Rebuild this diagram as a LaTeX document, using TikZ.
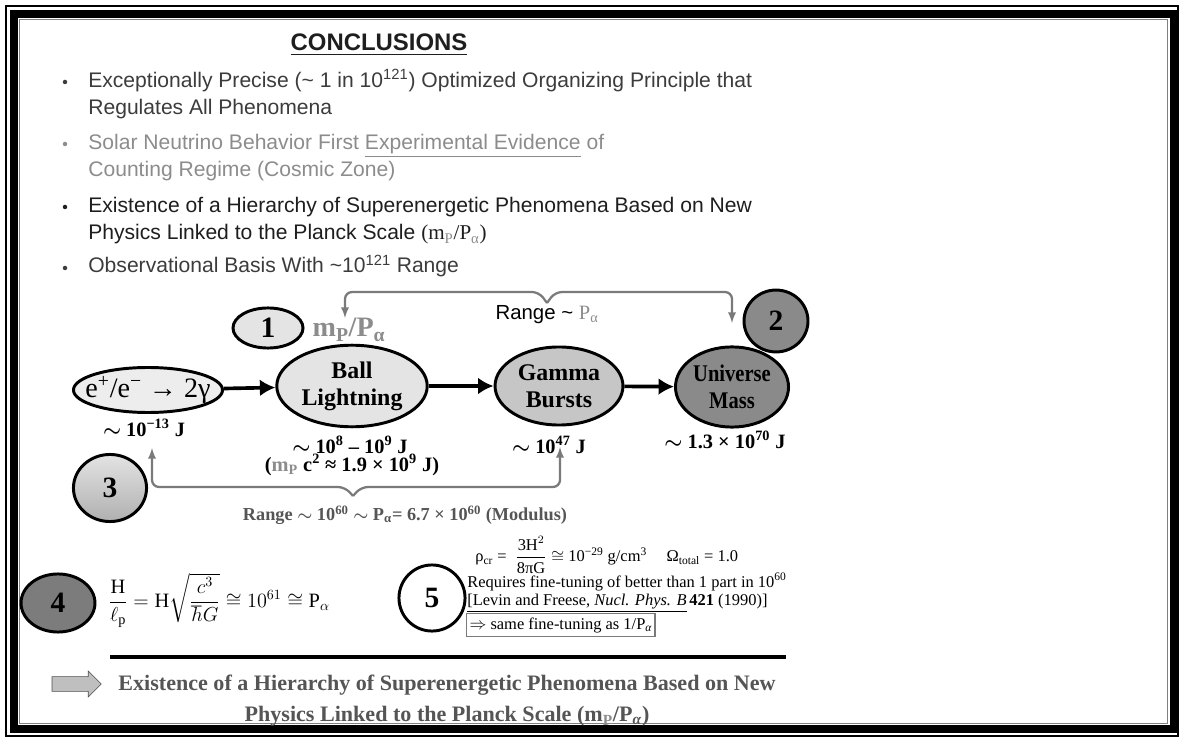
\documentclass[tikz,border=0pt]{standalone}
\usepackage{amsmath,amssymb}
\usepackage{fontspec}
\setmainfont{Liberation Serif}
\newfontfamily\arial{Liberation Sans}
\usepackage{xcolor}
\usepackage{tikz}
\usetikzlibrary{shapes.geometric,shapes.arrows,arrows.meta}

\definecolor{txtA}{HTML}{3C3C3C}
\definecolor{txtB}{HTML}{8C8C8C}
\definecolor{txtC}{HTML}{1E1E1E}
\definecolor{brk}{HTML}{7A7A7A}
\definecolor{fillE}{HTML}{EDEDED}
\definecolor{fillB}{HTML}{E4E4E4}
\definecolor{fillG}{HTML}{C6C6C6}
\definecolor{fillU}{HTML}{8A8A8A}
\definecolor{fillD}{HTML}{7C7C7C}
\definecolor{botT}{HTML}{555555}

\begin{document}
\begin{tikzpicture}[
    x=0.025cm, y=-0.025cm,
    >=latex,
    line width=0.45pt,
    every node/.style={font=\rmfamily\fontsize{15}{17}\selectfont, inner sep=0pt},
    blob/.style={ellipse, draw, line width=2.1pt, inner xsep=-30pt, inner ysep=-12pt,
      align=center, font=\rmfamily\bfseries\fontsize{17}{19}\selectfont},
    numb/.style={ellipse, draw, line width=2.1pt, inner sep=-20pt,
      font=\rmfamily\bfseries\fontsize{21}{21}\selectfont},
    flow/.style={-{Latex[length=11pt,width=12pt]}, line width=2.6pt},
    rng/.style={draw=brk, line width=1.6pt, rounded corners=5pt},
    bul/.style={anchor=base west, align=left, font=\arial\fontsize{15}{19.9}\selectfont},
    bdot/.style={circle, minimum size=3.2pt}
  ]
    \useasboundingbox (0,0) rectangle (1181,740);
    % frame
    \draw[line width=0.8pt] (6,6) rectangle (1178,736);
    \draw[line width=5pt] (14,14) rectangle (1173,729);
    \draw[gray, line width=0.6pt] (19.5,19.5) rectangle (1167.5,723.5);

    % title and bullets
    \node[text=txtC, font=\arial\bfseries\fontsize{17}{19}\selectfont] (title) at (379,45) {\underline{CONCLUSIONS}};
    \node[bdot, fill=txtA] (d1) at (65,82) {};
    \node[bul, text=txtA] (t1) at (88,115) {Exceptionally Precise (\textasciitilde{} 1 in 10\textsuperscript{121}) Optimized Organizing Principle that\\Regulates All Phenomena};
    \node[bdot, fill=txtB] (d2) at (65,144) {};
    \node[bul, text=txtB] (t2) at (88,177) {Solar Neutrino Behavior First \underline{Experimental Evidence} of\\Counting Regime (Cosmic Zone)};
    \node[bdot, fill=txtC] (d3) at (65,207) {};
    \node[bul, text=txtC] (t3) at (88,240) {Existence of a Hierarchy of Superenergetic Phenomena Based on New\\Physics Linked to the Planck Scale {\rmfamily(m\textsubscript{\textcolor{txtB}{P}}/P\textsubscript{\textcolor{txtB}{α}})}};
    \node[bdot, fill=txtA] (d4) at (65,268) {};
    \node[bul, text=txtA] (t4) at (88,273) {Observational Basis With \textasciitilde10\textsuperscript{121} Range};

    % chain of phenomena
    \node[blob, fill=fillE, minimum width=106pt, minimum height=32pt,
      font=\rmfamily\fontsize{20}{22}\selectfont] (ee) at (148,390) {e\textsuperscript{+}/e\textsuperscript{−} → 2γ};
    \node[blob, fill=fillB, minimum width=107pt, minimum height=58pt] (ball) at (352,386) {Ball\\Lightning};
    \node[blob, fill=fillG, minimum width=91pt, minimum height=55.5pt] (gam) at (559,386) {Gamma\\Bursts};
    \node[blob, fill=fillU, minimum width=80.4pt, minimum height=57pt] (uni) at (732,387) {\scalebox{.86}[1]{Universe}\\\scalebox{.86}[1]{Mass}};
    \draw[flow] (ee) -- (ball);
    \draw[flow] (ball) -- (gam);
    \draw[flow] (gam) -- (uni);

    \node[font=\rmfamily\bfseries\fontsize{14.5}{17}\selectfont] (lee) at (144,428) {{\boldmath$\sim$} 10\textsuperscript{−13} J};
    \node[font=\rmfamily\bfseries\fontsize{14.5}{17}\selectfont] (lball) at (350,445) {{\boldmath$\sim$} 10\textsuperscript{8} – 10\textsuperscript{9} J};
    \node[font=\rmfamily\bfseries\fontsize{14.5}{17}\selectfont] (lmp) at (352,465) {(\textcolor{txtB}{m\textsubscript{P}} c\textsuperscript{2} ≈ 1.9 × 10\textsuperscript{9} J)};
    \node[font=\rmfamily\bfseries\fontsize{14.5}{17}\selectfont] (lgam) at (549,445) {{\boldmath$\sim$} 10\textsuperscript{47} J};
    \node[font=\rmfamily\bfseries\fontsize{14.5}{17}\selectfont] (luni) at (725,440) {{\boldmath$\sim$} 1.3 × 10\textsuperscript{70} J};

    % numbered marks
    \node[numb, fill=fillB, minimum width=49.8pt, minimum height=28.5pt] (n1) at (268,328) {1};
    \node[text=txtB, font=\rmfamily\bfseries\fontsize{20}{22}\selectfont] (mp) at (349,330) {m\textsubscript{P}/P\textsubscript{α}};
    \node[numb, fill=fillU, minimum width=45.5pt, minimum height=44pt] (n2) at (776,321) {2};
    \node[numb, top color=gray!22, bottom color=gray!62, minimum width=52pt, minimum height=47.7pt] (n3) at (110,488) {3};

    % ranges
    \coordinate (ta) at (345,318);
    \coordinate (tb) at (732,323);
    \coordinate (tt) at (547,303);
    \draw[rng,->] (tt) -- ++(-8,-11) -| (ta);
    \draw[rng,->] (tt) -- ++(8,-11) -| (tb);
    \node[font=\arial\fontsize{14.5}{16}\selectfont] (rtop) at (547,315) {Range \textasciitilde{} {\rmfamily\textcolor{txtB}{P\textsubscript{α}}}};

    \coordinate (ba) at (152,448);
    \coordinate (bb) at (560,447);
    \coordinate (bt) at (353,496);
    \draw[rng,->] (bt) -- ++(-8,-9) -| (ba);
    \draw[rng,->] (bt) -- ++(8,-9) -| (bb);
    \node[text=botT, font=\rmfamily\bfseries\fontsize{13}{15}\selectfont] (rbot) at (405,515) {Range {\boldmath$\sim$} 10\textsuperscript{60} {\boldmath$\sim$} P\textsubscript{α}= 6.7 × 10\textsuperscript{60} (Modulus)};

    % Hubble ratio
    \node[numb, fill=fillD, minimum width=52.6pt, minimum height=41.3pt] (n4) at (58,603) {4};
    \node[anchor=west, font=\rmfamily\fontsize{14.5}{17}\selectfont] (hub) at (108,600)
      {$\dfrac{\mathrm{H}}{\ell_{\mathrm{p}}}=\mathrm{H}\sqrt{\dfrac{c^{3}}{\hbar G}}\cong 10^{61}\cong\mathrm{P}_{\alpha}$};

    % fine-tuning
    \node[numb, fill=white, minimum width=47pt, minimum height=47pt] (n5) at (432,598) {5};
    \node[anchor=west, font=\rmfamily\fontsize{11.7}{13}\selectfont] (rho) at (475,555)
      {ρ\textsubscript{cr} = \;$\dfrac{\text{3H}^{2}}{\text{8πG}}$ $\cong$ 10\textsuperscript{−29} g/cm\textsuperscript{3}\hspace{14pt}Ω\textsubscript{total} = 1.0};
    \node[anchor=west, font=\rmfamily\fontsize{11.7}{13}\selectfont] (req) at (467,582)
      {Requires fine-tuning of better than 1 part in 10\textsuperscript{60}};
    \node[anchor=west, font=\rmfamily\fontsize{11.7}{13}\selectfont] (lev) at (467,603)
      {\underline{[Levin and Freese, \textit{Nucl. Phys. B}}\,\textbf{421} (1990)]};
    \node[anchor=west, draw=brk, line width=1pt, inner xsep=2pt, inner ysep=3pt,
      font=\rmfamily\fontsize{11.7}{13}\selectfont] (same) at (466,625)
      {$\Rightarrow$ same fine-tuning as 1/P\textsubscript{\textit{α}}\hspace{10pt}};

    % conclusion
    \draw[line width=2.2pt] (110,657) -- (786,657);
    \node[single arrow, draw=gray!60!black, fill=gray!50, minimum height=35pt, inner ysep=5pt,
      single arrow head extend=4pt, single arrow head indent=0pt] (imp) at (73,684) {};
    \node[align=center, text=botT, font=\rmfamily\bfseries\fontsize{15.7}{22}\selectfont] (concl) at (447,701)
      {Existence of a Hierarchy of Superenergetic Phenomena Based on New\\Physics Linked to the Planck Scale (m\textsubscript{\textcolor{txtB}{P}}/P\textsubscript{\textit{α}})};
\end{tikzpicture}
\end{document}
